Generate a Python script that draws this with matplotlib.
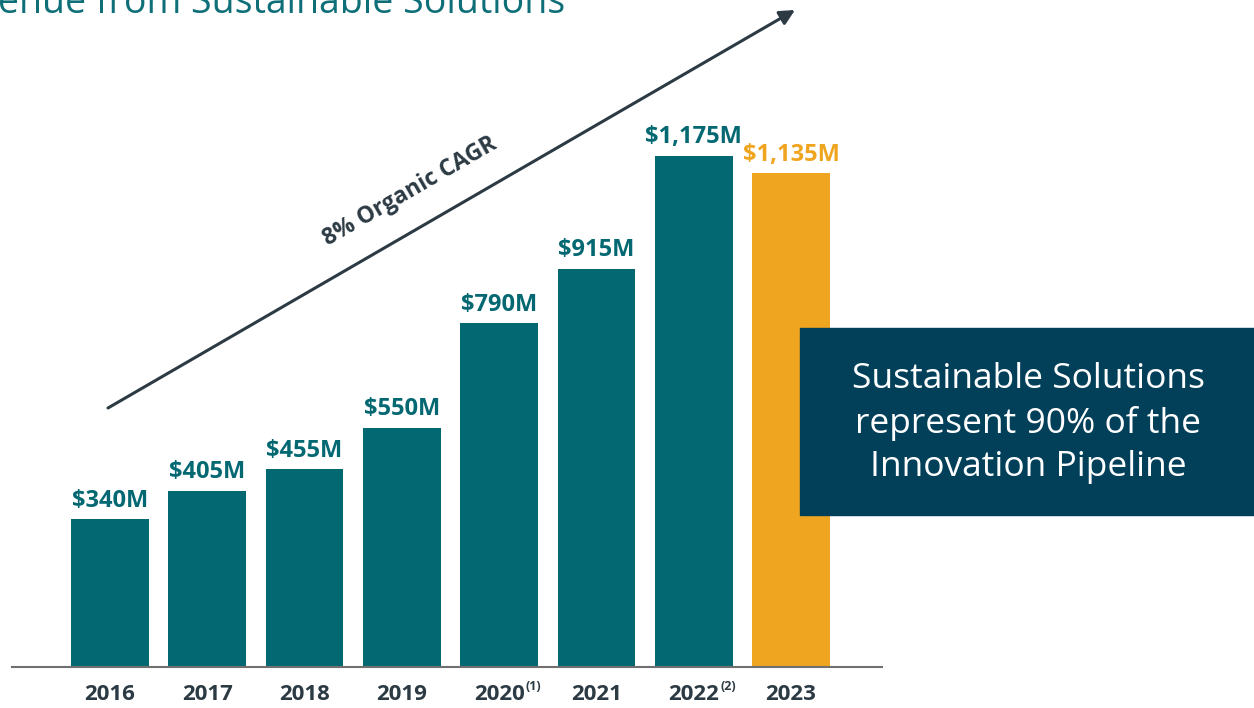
import matplotlib.pyplot as plt
from matplotlib.patches import Rectangle

years = ["2016", "2017", "2018", "2019", "2020", "2021", "2022", "2023"]
footnotes = ["", "", "", "", "(1)", "", "(2)", ""]
revenue = [340, 405, 455, 550, 790, 915, 1175, 1135]
value_labels = ["$340M", "$405M", "$455M", "$550M", "$790M", "$915M", "$1,175M", "$1,135M"]

teal = "#036872"
orange = "#f0a520"
dark = "#2c3a44"
navy = "#02405a"

plt.rcParams["font.family"] = ["Open Sans", "DejaVu Sans"]

fig = plt.figure(figsize=(12.54, 7.08), dpi=100)
ax = fig.add_axes([12 / 1254, 41 / 708, 870 / 1254, 0.9216])

colors = [teal] * (len(years) - 1) + [orange]
x = list(range(len(years)))
ax.bar(x, revenue, width=0.8, color=colors, zorder=2)

for i, (v, lab) in enumerate(zip(revenue, value_labels)):
    ax.annotate(lab, xy=(i, v), xytext=(0, 9), textcoords="offset points",
                ha="center", va="baseline", fontsize=17, fontweight="bold",
                color=colors[i])

ax.set_xlim(-1.006, 7.934)
ax.set_ylim(0, 1500)
ax.set_xticks(x)
ax.set_xticklabels(years, fontsize=16, fontweight="bold", color=dark)
ax.tick_params(axis="x", length=0, pad=12)
ax.set_yticks([])
for s in ["top", "right", "left"]:
    ax.spines[s].set_visible(False)
ax.spines["bottom"].set_color("#707070")
ax.spines["bottom"].set_linewidth(1.5)

# superscript footnote markers next to the year labels
for lbl, note in zip(ax.get_xticklabels(), footnotes):
    if note:
        ax.annotate(note, xy=(1, 1), xycoords=lbl, xytext=(1, 3),
                    textcoords="offset points", ha="left", va="top",
                    fontsize=9, fontweight="bold", color=dark)

# growth arrow
ax.annotate("", xy=(795 / 1254, 1 - 10 / 708), xytext=(108 / 1254, 1 - 408 / 708),
            xycoords="figure fraction", textcoords="figure fraction",
            arrowprops=dict(arrowstyle="-|>,head_length=0.9,head_width=0.45",
                            color=dark, lw=2.2, shrinkA=0, shrinkB=0))
fig.text(410 / 1254, 1 - 192 / 708, "8% Organic CAGR", rotation=30,
         ha="center", va="center", fontsize=16.5, fontweight="bold",
         color=dark, rotation_mode="anchor")

# callout box
fig.patches.append(Rectangle((800 / 1254, 1 - 515 / 708), 454 / 1254, 187 / 708,
                             transform=fig.transFigure, color=navy, zorder=5))
fig.text(1028 / 1254, 1 - 423 / 708,
         "Sustainable Solutions\nrepresent 90% of the\nInnovation Pipeline",
         ha="center", va="center", fontsize=25.5, color="white",
         linespacing=1.36, zorder=6)

# title cut off at the top
fig.text(565 / 1254, 1 - 13 / 708, "Revenue from Sustainable Solutions",
         ha="right", va="baseline", fontsize=27, color="#0e6f78")

fig.savefig("out.png", dpi=100)
